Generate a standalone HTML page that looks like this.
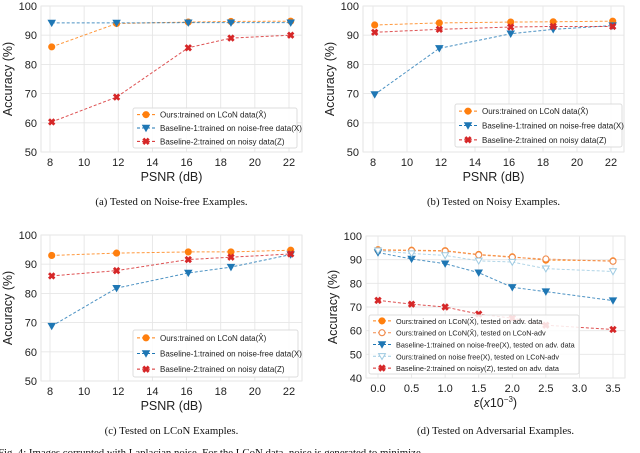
<!DOCTYPE html>
<html><head><meta charset="utf-8">
<style>
html,body{margin:0;padding:0;background:#fff;width:640px;height:453px;overflow:hidden}
svg text{font-family:"Liberation Sans",sans-serif;fill:#222}
.cap{font-family:"Liberation Serif",serif;font-size:10.8px;fill:#111}
</style></head>
<body>
<svg id="c" width="640" height="453" xmlns="http://www.w3.org/2000/svg"></svg>
<script>
const psnrX = [8.1, 11.9, 16.1, 18.6, 22.1];
const psnrTicks = [8, 10, 12, 14, 16, 18, 20, 22];
const accTicksA = [50, 60, 70, 80, 90, 100];
const accTicksD = [40, 50, 60, 70, 80, 90, 100];
const aOurs = [86, 94, 94.5, 94.7, 94.8];
const aB1 = [94.2, 94.2, 94.3, 94.3, 94.3];
const aB2 = [60.3, 68.8, 85.7, 89, 90];
const bOurs = [93.5, 94.2, 94.5, 94.6, 94.8];
const bB1 = [69.7, 85.5, 90.5, 92, 93.3];
const bB2 = [91, 92, 92.8, 93, 93];
const cOurs = [93, 93.8, 94.2, 94.2, 94.8];
const cB1 = [68.8, 81.8, 87, 89, 93.3];
const cB2 = [86, 87.8, 91.6, 92.4, 93.5];
const epsX = [0, 0.5, 1.0, 1.5, 2.0, 2.5, 3.5];
const epsTicks = [0, 0.5, 1.0, 1.5, 2.0, 2.5, 3.0, 3.5];
const dOursAdv = [94.2, 94, 93.8, 92.2, 91.2, 89.8, 89.5];
const dOursLcon = [94, 93.8, 93.6, 92, 91, 90.3, 89.3];
const dB1 = [93, 90.3, 88.3, 84.5, 78.3, 76.5, 72.7];
const dNfLcon = [93.8, 92.6, 91.8, 89.5, 89, 86.2, 85];
const dB2 = [72.8, 71.2, 70, 67, 65.3, 62.3, 60.5];

const NS = "http://www.w3.org/2000/svg";
const svg = document.getElementById('c');
function mk(tag, at, parent) {
  const e = document.createElementNS(NS, tag);
  for (const k in at) e.setAttribute(k, at[k]);
  (parent || svg).appendChild(e);
  return e;
}
const OR = "#ff7f0e", BL = "#1f77b4", RD = "#d62728", LB = "#9ecae1";

function marker(g, type, x, y, col, hollow) {
  let e;
  if (type === 'o') e = mk('circle', {cx: x, cy: y, r: 3, fill: hollow ? '#fff' : col, stroke: col, 'stroke-width': 1.1}, g);
  else if (type === 'v') e = mk('path', {d: `M${x-3.4},${y-2.7} L${x+3.4},${y-2.7} L${x},${y+3.2} Z`, fill: hollow ? '#fff' : col, stroke: col, 'stroke-width': 1}, g);
  else e = mk('path', {d: `M${x-2.7},${y-2.7} L${x+2.7},${y+2.7} M${x+2.7},${y-2.7} L${x-2.7},${y+2.7}`, stroke: col, 'stroke-width': 2.8}, g);
  
  
}

function panel(o) {
  const g = mk('g', {});
  
  
  const sx = v => o.px0 + (v - o.x0) * (o.px1 - o.px0) / (o.x1 - o.x0);
  const sy = v => o.py0 + (v - o.y0) * (o.py1 - o.py0) / (o.y1 - o.y0);
  const bg = mk('rect', {x: o.L, y: o.T, width: o.R - o.L, height: o.B - o.T, fill: '#fff', stroke: '#ddd', 'stroke-width': 0.8}, g);
  
  
  o.xt.forEach(t => {
    const l = mk('line', {x1: sx(t), x2: sx(t), y1: o.T, y2: o.B, stroke: '#e6e6e6', 'stroke-width': 0.9}, g);
    
    
    const tx = mk('text', {x: sx(t), y: o.B + 14, 'font-size': 11, 'text-anchor': 'middle'}, g);
    tx.textContent = o.xfmt(t);
    
    
  });
  o.yt.forEach(t => {
    const l = mk('line', {x1: o.L, x2: o.R, y1: sy(t), y2: sy(t), stroke: '#e6e6e6', 'stroke-width': 0.9}, g);
    
    
    const tx = mk('text', {x: o.L - 4, y: sy(t) + 4, 'font-size': 11, 'text-anchor': 'end'}, g);
    tx.textContent = t;
    
    
  });
  const yl = mk('text', {x: 0, y: 0, 'font-size': 12.5, 'text-anchor': 'middle', transform: `translate(${o.L - 29},${(o.T + o.B) / 2}) rotate(-90)`}, g);
  yl.textContent = 'Accuracy (%)';
  
  
  const xl = mk('text', {x: (o.L + o.R) / 2, y: o.B + 29, 'font-size': 12.5, 'text-anchor': 'middle'}, g);
  if (o.xlabelHTML) { xl.innerHTML = o.xlabelHTML; } else xl.textContent = o.xlabel;
  
  
  o.series.forEach(s => {
    const pts = s.ys.map((v, i) => sx(o.xs[i]) + ',' + sy(v)).join(' ');
    const pl = mk('polyline', {points: pts, fill: 'none', stroke: s.col, 'stroke-width': 1, 'stroke-dasharray': '3,2', opacity: 0.8}, g);
    
    
    s.ys.forEach((v, i) => marker(g, s.m, sx(o.xs[i]), sy(v), s.col, s.hollow));
  });
  const lg = mk('g', {}, g);
  
  
  const lb = mk('rect', {x: o.lx, y: o.ly, width: o.lw, height: o.lh, fill: '#fff', 'fill-opacity': 0.85, stroke: '#ddd', rx: 2}, lg);
  
  
  const step = o.lh / o.series.length;
  o.series.forEach((s, i) => {
    const y = o.ly + step * (i + 0.5);
    const ln = mk('line', {x1: o.lx + 4, x2: o.lx + 22, y1: y, y2: y, stroke: s.col, 'stroke-width': 1, 'stroke-dasharray': '3,2'}, lg);
    
    
    marker(lg, s.m, o.lx + 13, y, s.col, s.hollow);
    const t = mk('text', {x: o.lx + 27, y: y + 3, 'font-size': o.lfs}, lg);
    t.textContent = s.label;
    
    
  });
  const cap = mk('text', {x: (o.L + o.R) / 2, y: o.capY, 'text-anchor': 'middle', class: 'cap'}, g);
  cap.textContent = o.caption;
  
  
}

const psnrFmt = t => String(t);
function psnrSeries(ours, b1, b2) {
  return [
    {ys: ours, col: OR, m: 'o', label: 'Ours:trained on LCoN data(X\u0302)'},
    {ys: b1, col: BL, m: 'v', label: 'Baseline-1:trained on noise-free data(X)'},
    {ys: b2, col: RD, m: 'x', label: 'Baseline-2:trained on noisy data(Z)'}];
}
panel({name: 'chart-a', L: 41, R: 302, T: 6, B: 152, px0: 50, px1: 289, x0: 8, x1: 22, py0: 6, py1: 152, y0: 100, y1: 50,
  xs: psnrX, xt: psnrTicks, yt: accTicksA, xfmt: psnrFmt, xlabel: 'PSNR (dB)', series: psnrSeries(aOurs, aB1, aB2),
  lx: 133, ly: 108, lw: 164, lh: 40, lfs: 8, capY: 205, caption: '(a) Tested on Noise-free Examples.'});
panel({name: 'chart-b', L: 363, R: 624, T: 6, B: 152, px0: 373, px1: 611, x0: 8, x1: 22, py0: 6, py1: 152, y0: 100, y1: 50,
  xs: psnrX, xt: psnrTicks, yt: accTicksA, xfmt: psnrFmt, xlabel: 'PSNR (dB)', series: psnrSeries(bOurs, bB1, bB2),
  lx: 455, ly: 104, lw: 167, lh: 43, lfs: 8, capY: 205, caption: '(b) Tested on Noisy Examples.'});
panel({name: 'chart-c', L: 41, R: 302, T: 235, B: 381, px0: 50, px1: 289, x0: 8, x1: 22, py0: 235, py1: 381, y0: 100, y1: 50,
  xs: psnrX, xt: psnrTicks, yt: accTicksA, xfmt: psnrFmt, xlabel: 'PSNR (dB)', series: psnrSeries(cOurs, cB1, cB2),
  lx: 133, ly: 330, lw: 165, lh: 47, lfs: 8, capY: 434, caption: '(c) Tested on LCoN Examples.'});
panel({name: 'chart-d', L: 366, R: 625, T: 236, B: 378, px0: 378, px1: 613, x0: 0, x1: 3.5, py0: 236, py1: 378, y0: 100, y1: 40,
  xs: epsX, xt: epsTicks, yt: accTicksD, xfmt: t => t.toFixed(1),
  xlabelHTML: '<tspan font-style="italic">ε</tspan>(<tspan font-style="italic">x</tspan>10<tspan dy="-5" font-size="8">−3</tspan><tspan dy="5">)</tspan>',
  series: [
    {ys: dOursAdv, col: OR, m: 'o', label: 'Ours:trained on LCoN(X\u0302), tested on adv. data'},
    {ys: dOursLcon, col: '#f08a4b', m: 'o', hollow: true, label: 'Ours:trained on LCoN(X\u0302), tested on LCoN-adv'},
    {ys: dB1, col: BL, m: 'v', label: 'Baseline-1:trained on noise-free(X), tested on adv. data'},
    {ys: dNfLcon, col: LB, m: 'v', hollow: true, label: 'Ours:trained on noise free(X), tested on LCoN-adv'},
    {ys: dB2, col: RD, m: 'x', label: 'Baseline-2:trained on noisy(Z), tested on adv. data'}],
  lx: 369, ly: 315, lw: 210, lh: 59, lfs: 7.3, capY: 434, caption: '(d) Tested on Adversarial Examples.'});
const ft = mk('text', {x: -2, y: 456, class: 'cap'});
ft.textContent = 'Fig. 4: Images corrupted with Laplacian noise. For the LCoN data, noise is generated to minimize...';


</script>
</body></html>
